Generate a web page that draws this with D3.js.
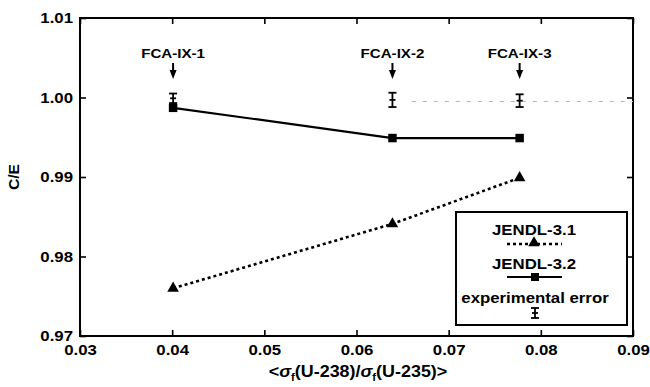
<!DOCTYPE html>
<html>
<head>
<meta charset="utf-8">
<script src="https://cdn.jsdelivr.net/npm/d3@7"></script>
<style>
  body { margin: 0; background: #fff; }
  svg text { font-family: "Liberation Sans", Arial, sans-serif; font-weight: bold; fill: #000; }
</style>
</head>
<body>
<script>
// assemblies and their spectral index
const samples = ["FCA-IX-1", "FCA-IX-2", "FCA-IX-3"];
const spectralIndex = [0.0401, 0.0639, 0.0777];

// C/E values
const jendl31 = [0.9760, 0.9841, 0.9899];
const jendl32 = [0.9987, 0.9949, 0.9949];
const expCenter = [0.9999, 0.9997, 0.9996];
const expError = [0.0006, 0.0009, 0.0008];

// faint reference line on the right
const refX = [0.066, 0.09];
const refY = 0.9995;

const xTicks = [0.03, 0.04, 0.05, 0.06, 0.07, 0.08, 0.09];
const yTicks = [0.97, 0.98, 0.99, 1.00, 1.01];

const W = 650, H = 387;
const SX = 1.12; // horizontal stretch of the scanned lettering

let svg = d3.select('body').append('svg')
  .attr('width', W)
  .attr('height', H);

let x = d3.scaleLinear().domain([0.03, 0.09]).range([80, 633]);
let y = d3.scaleLinear().domain([0.97, 1.01]).range([336, 18]);

// axes, ticks pointing inside
let fmt = d3.format('.2f');
let gB = svg.append('g').attr('transform', 'translate(0,' + y.range()[0] + ')')
  .call(d3.axisBottom(x).tickValues(xTicks).tickSizeInner(-6).tickSizeOuter(0).tickPadding(8).tickFormat(fmt));
let gT = svg.append('g').attr('transform', 'translate(0,' + y.range()[1] + ')')
  .call(d3.axisTop(x).tickValues(xTicks).tickSizeInner(-6).tickSizeOuter(0).tickFormat(''));
let gL = svg.append('g').attr('transform', 'translate(' + x.range()[0] + ',0)')
  .call(d3.axisLeft(y).tickValues(yTicks).tickSizeInner(-6).tickSizeOuter(0).tickPadding(7).tickFormat(fmt));
let gR = svg.append('g').attr('transform', 'translate(' + x.range()[1] + ',0)')
  .call(d3.axisRight(y).tickValues(yTicks).tickSizeInner(-6).tickSizeOuter(0).tickFormat(''));

[gB, gT, gL, gR].forEach(function (g) {
  g.select('.domain').remove();
  g.selectAll('line').attr('stroke', '#000').attr('stroke-width', 1.6);
  g.selectAll('text').attr('font-size', 15).attr('font-family', null);
});
gB.selectAll('text').attr('transform', 'scale(' + SX + ',1)');
gL.selectAll('text').attr('x', -7 / SX).attr('transform', 'scale(' + SX + ',1)');

// frame
svg.append('rect')
  .attr('x', x.range()[0]).attr('y', y.range()[1])
  .attr('width', x.range()[1] - x.range()[0])
  .attr('height', y.range()[0] - y.range()[1])
  .attr('fill', 'none').attr('stroke', '#000').attr('stroke-width', 2);

// axis titles
let xt = svg.append('text')
  .attr('transform', 'translate(358,377) scale(' + SX + ',1)')
  .attr('text-anchor', 'middle')
  .attr('font-size', 16);
xt.append('tspan').text('<');
xt.append('tspan').attr('font-style', 'italic').text('σ');
xt.append('tspan').attr('font-size', 10).attr('dy', 4).text('f');
xt.append('tspan').attr('dy', -4).text('(U-238)/');
xt.append('tspan').attr('font-style', 'italic').text('σ');
xt.append('tspan').attr('font-size', 10).attr('dy', 4).text('f');
xt.append('tspan').attr('dy', -4).text('(U-235)>');

svg.append('text')
  .attr('transform', 'translate(19,177) rotate(-90) scale(' + SX + ',1)')
  .attr('text-anchor', 'middle')
  .attr('font-size', 14)
  .text('C/E');

// faint dashed line at about 1.0
svg.append('line')
  .attr('x1', x(refX[0])).attr('x2', x(refX[1]))
  .attr('y1', y(refY)).attr('y2', y(refY))
  .attr('stroke', '#b5b5b5').attr('stroke-width', 1.2)
  .attr('stroke-dasharray', '4,7');

// JENDL-3.1, dotted line with triangles
let line31 = d3.line().x(function (d, i) { return x(spectralIndex[i]); }).y(function (d) { return y(d); });
svg.append('path')
  .attr('d', line31(jendl31))
  .attr('fill', 'none').attr('stroke', '#000').attr('stroke-width', 2.6)
  .attr('stroke-dasharray', '3,3');
svg.selectAll('path.tri')
  .data(jendl31).enter().append('path')
  .attr('class', 'tri')
  .attr('transform', function (d, i) { return 'translate(' + x(spectralIndex[i]) + ',' + y(d) + ')'; })
  .attr('d', d3.symbol(d3.symbolTriangle).size(58));

// JENDL-3.2, solid line with squares
svg.append('path')
  .attr('d', line31(jendl32))
  .attr('fill', 'none').attr('stroke', '#000').attr('stroke-width', 2.2);
svg.selectAll('path.sq')
  .data(jendl32).enter().append('path')
  .attr('class', 'sq')
  .attr('transform', function (d, i) { return 'translate(' + x(spectralIndex[i]) + ',' + y(d) + ')'; })
  .attr('d', d3.symbol(d3.symbolSquare).size(72));

// experimental error bars
function errBar(g, cx, yTop, yBot) {
  let cy = (yTop + yBot) / 2;
  g.append('line').attr('x1', cx).attr('x2', cx).attr('y1', yTop).attr('y2', yBot);
  g.append('line').attr('x1', cx - 4).attr('x2', cx + 4).attr('y1', yTop).attr('y2', yTop);
  g.append('line').attr('x1', cx - 4).attr('x2', cx + 4).attr('y1', yBot).attr('y2', yBot);
  g.append('line').attr('x1', cx - 3).attr('x2', cx + 3).attr('y1', cy).attr('y2', cy);
}
let gErr = svg.append('g').attr('stroke', '#000').attr('stroke-width', 1.8);
expCenter.forEach(function (c, i) {
  errBar(gErr, x(spectralIndex[i]), y(c + expError[i]), y(c - expError[i]));
});

// sample labels with arrows
samples.forEach(function (s, i) {
  let cx = x(spectralIndex[i]);
  svg.append('text')
    .attr('transform', 'translate(' + cx + ',58) scale(' + SX + ',1)')
    .attr('text-anchor', 'middle')
    .attr('font-size', 13.5)
    .text(s);
  svg.append('line')
    .attr('x1', cx).attr('x2', cx).attr('y1', 63).attr('y2', 72)
    .attr('stroke', '#000').attr('stroke-width', 2);
  svg.append('path')
    .attr('d', 'M' + (cx - 3.5) + ',70L' + (cx + 3.5) + ',70L' + cx + ',79Z')
    .attr('fill', '#000');
});

// legend
let lg = svg.append('g');
lg.append('rect')
  .attr('x', 456).attr('y', 212).attr('width', 171).attr('height', 113)
  .attr('fill', '#fff').attr('stroke', '#000').attr('stroke-width', 2);

function legendText(txt, cx, by) {
  lg.append('text')
    .attr('transform', 'translate(' + cx + ',' + by + ') scale(' + SX + ',1)')
    .attr('text-anchor', 'middle')
    .attr('font-size', 15)
    .text(txt);
}
legendText('JENDL-3.1', 534, 235);
lg.append('line').attr('x1', 507).attr('x2', 562).attr('y1', 244).attr('y2', 244)
  .attr('stroke', '#000').attr('stroke-width', 2.4).attr('stroke-dasharray', '3,3');
lg.append('path').attr('transform', 'translate(534,243)').attr('d', d3.symbol(d3.symbolTriangle).size(58));

legendText('JENDL-3.2', 534, 269);
lg.append('line').attr('x1', 507).attr('x2', 562).attr('y1', 277).attr('y2', 277)
  .attr('stroke', '#000').attr('stroke-width', 2.2);
lg.append('path').attr('transform', 'translate(535,277)').attr('d', d3.symbol(d3.symbolSquare).size(64));

legendText('experimental error', 535, 303);
let lgErr = lg.append('g').attr('stroke', '#000').attr('stroke-width', 1.8);
errBar(lgErr, 535, 308, 318);
</script>
</body>
</html>
